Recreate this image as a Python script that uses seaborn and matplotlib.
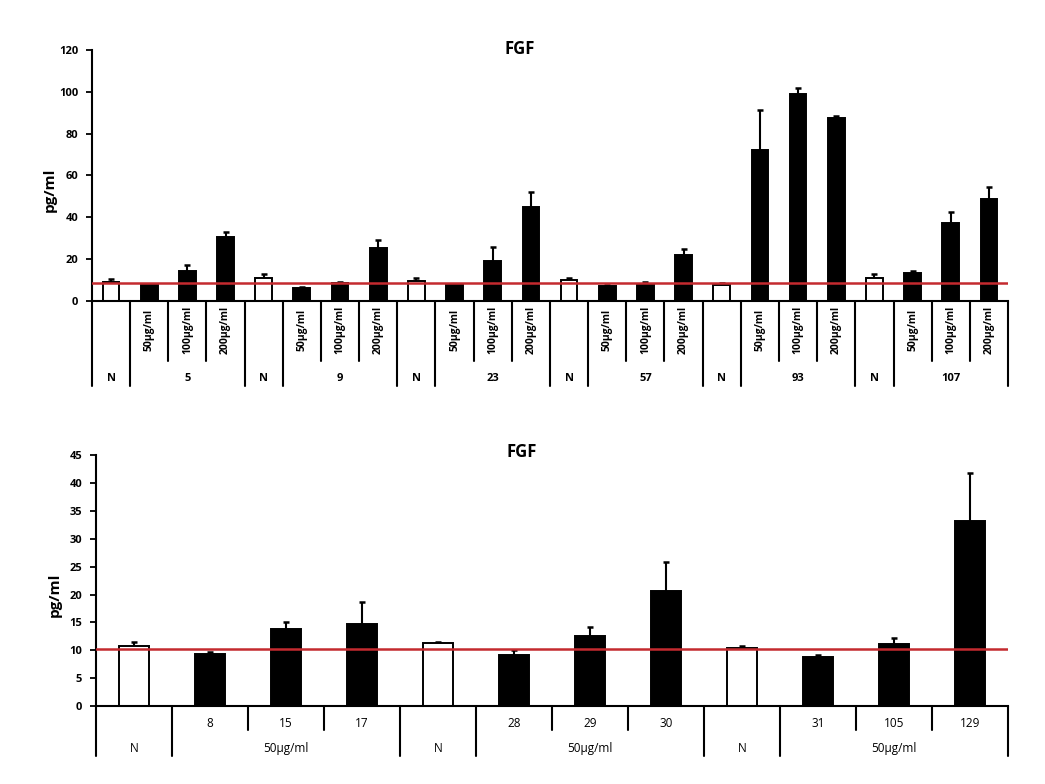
import numpy as np
import pandas as pd
import matplotlib
matplotlib.use('Agg')
import matplotlib.pyplot as plt
import seaborn as sns
from matplotlib import transforms

# ---------------- data ----------------
top_groups = ['5', '9', '23', '57', '93', '107']
top_doses = ['50µg/ml', '100µg/ml', '200µg/ml']
top_n_mean = [9.0, 10.9, 9.4, 9.8, 7.6, 10.6]
top_n_err = [1.2, 1.8, 1.2, 1.1, 0.6, 2.0]
top_dose_mean = [[7.8, 14.3, 30.6],
                 [6.1, 8.2, 25.0],
                 [7.7, 19.1, 45.0],
                 [7.0, 7.9, 21.7],
                 [71.9, 99.1, 87.5],
                 [13.3, 37.3, 48.6]]
top_dose_err = [[0.3, 2.7, 2.4],
                [0.3, 0.6, 4.0],
                [0.3, 6.4, 7.2],
                [0.3, 1.2, 2.9],
                [19.5, 2.8, 1.1],
                [1.0, 5.2, 6.0]]
top_ref = 8.6

bottom_sets = [['8', '15', '17'], ['28', '29', '30'], ['31', '105', '129']]
bottom_dose = '50µg/ml'
bottom_n_mean = [10.85, 11.27, 10.4]
bottom_n_err = [0.7, 0.3, 0.4]
bottom_mean = [[9.35, 13.8, 14.7],
               [9.2, 12.6, 20.7],
               [8.75, 11.1, 33.2]]
bottom_err = [[0.45, 1.2, 3.9],
              [0.8, 1.6, 5.1],
              [0.5, 1.2, 8.5]]
bottom_ref = 10.25

title = 'FGF'
ylabel = 'pg/ml'

# ---------------- style ----------------
sns.set_theme(style='white')
plt.rcParams['font.family'] = ['Open Sans', 'DejaVu Sans']
plt.rcParams['text.color'] = 'black'
plt.rcParams['axes.labelcolor'] = 'black'
plt.rcParams['xtick.color'] = 'black'
plt.rcParams['ytick.color'] = 'black'

RED = '#c42a2f'

fig = plt.figure(figsize=(10.45, 7.84), dpi=100)
ax1 = fig.add_axes([0.088, 0.6167, 0.8766, 0.3195])
ax2 = fig.add_axes([0.0919, 0.0992, 0.8727, 0.3204])

# ---------------- build tables ----------------
rows = []
for gi, g in enumerate(top_groups):
    rows.append(dict(cat=f'N-{g}', kind='N', mean=top_n_mean[gi], err=top_n_err[gi], lab=''))
    for di, d in enumerate(top_doses):
        rows.append(dict(cat=f'{g}-{d}', kind='T', mean=top_dose_mean[gi][di],
                         err=top_dose_err[gi][di], lab=d))
df_top = pd.DataFrame(rows)

rows = []
for si, s in enumerate(bottom_sets):
    rows.append(dict(cat=f'N-{si}', kind='N', mean=bottom_n_mean[si], err=bottom_n_err[si], lab=''))
    for ci, c in enumerate(s):
        rows.append(dict(cat=f'{c}', kind='T', mean=bottom_mean[si][ci],
                         err=bottom_err[si][ci], lab=c))
df_bot = pd.DataFrame(rows)


def draw(ax, df, width, ylim, ystep, ref):
    x = np.arange(len(df))
    ax.errorbar(x, df['mean'], yerr=df['err'], fmt='none', ecolor='black',
                elinewidth=1.5, capsize=2.5, capthick=1.8, zorder=1)
    sns.barplot(data=df, x='cat', y='mean', hue='kind',
                palette={'N': 'white', 'T': 'black'}, dodge=False, width=width,
                edgecolor='black', linewidth=1.4, legend=False, errorbar=None,
                ax=ax, zorder=2)
    ax.axhline(ref, color=RED, lw=1.8, zorder=3)
    ax.set_xlim(-0.5, len(df) - 0.5)
    ax.set_ylim(*ylim)
    ax.set_yticks(np.arange(ylim[0], ylim[1] + 0.1, ystep))
    ax.set_xticks([])
    ax.set_xlabel('')
    ax.set_ylabel('')
    for s in ['top', 'right']:
        ax.spines[s].set_visible(False)
    for s in ['left', 'bottom']:
        ax.spines[s].set_color('black')
        ax.spines[s].set_linewidth(1.5)
    ax.tick_params(axis='y', left=True, direction='out', length=4, width=1.3,
                   labelsize=8, pad=6)
    for t in ax.get_yticklabels():
        t.set_fontweight('bold')


draw(ax1, df_top, 0.44, (0, 120), 20, top_ref)
draw(ax2, df_bot, 0.40, (0, 45), 5, bottom_ref)


def separators(ax, n, short_y, full_y):
    tr = transforms.blended_transform_factory(ax.transData, ax.transAxes)
    for b in range(n + 1):
        full = (b % 4) in (0, 1)
        yb = full_y if full else short_y
        ax.plot([b - 0.5, b - 0.5], [0, yb], transform=tr, color='black',
                lw=1.5, clip_on=False)
    return tr


# top axis labels
tr1 = separators(ax1, len(df_top), -0.24, -0.34)
for i, lab in enumerate(df_top['lab']):
    if lab:
        ax1.text(i, -0.118, lab, transform=tr1, rotation=90, ha='center',
                 va='center', fontsize=7.5, fontweight='bold')
for gi, g in enumerate(top_groups):
    ax1.text(4 * gi, -0.313, 'N', transform=tr1, ha='center', va='center',
             fontsize=8, fontweight='bold')
    ax1.text(4 * gi + 2, -0.313, g, transform=tr1, ha='center', va='center',
             fontsize=8, fontweight='bold')

# bottom axis labels
tr2 = separators(ax2, len(df_bot), -0.095, -0.198)
for i, lab in enumerate(df_bot['lab']):
    if lab:
        ax2.text(i, -0.067, lab, transform=tr2, ha='center', va='center',
                 fontsize=8.5)
for si in range(len(bottom_sets)):
    ax2.text(4 * si, -0.17, 'N', transform=tr2, ha='center', va='center',
             fontsize=8.5)
    ax2.text(4 * si + 2, -0.17, bottom_dose, transform=tr2, ha='center',
             va='center', fontsize=8.5)

# titles
ax1.text(0.467, 1.004, title, transform=ax1.transAxes, ha='center',
         va='center', fontsize=12, fontweight='bold')
ax2.text(0.467, 1.012, title, transform=ax2.transAxes, ha='center',
         va='center', fontsize=12, fontweight='bold')

# y labels
fig.text(50 / 1045, 1 - 190 / 784, ylabel, rotation=90, ha='center',
         va='center', fontsize=11, fontweight='bold')
fig.text(55 / 1045, 1 - 595 / 784, ylabel, rotation=90, ha='center',
         va='center', fontsize=11, fontweight='bold')

fig.savefig('out.png', dpi=100, facecolor='white')
